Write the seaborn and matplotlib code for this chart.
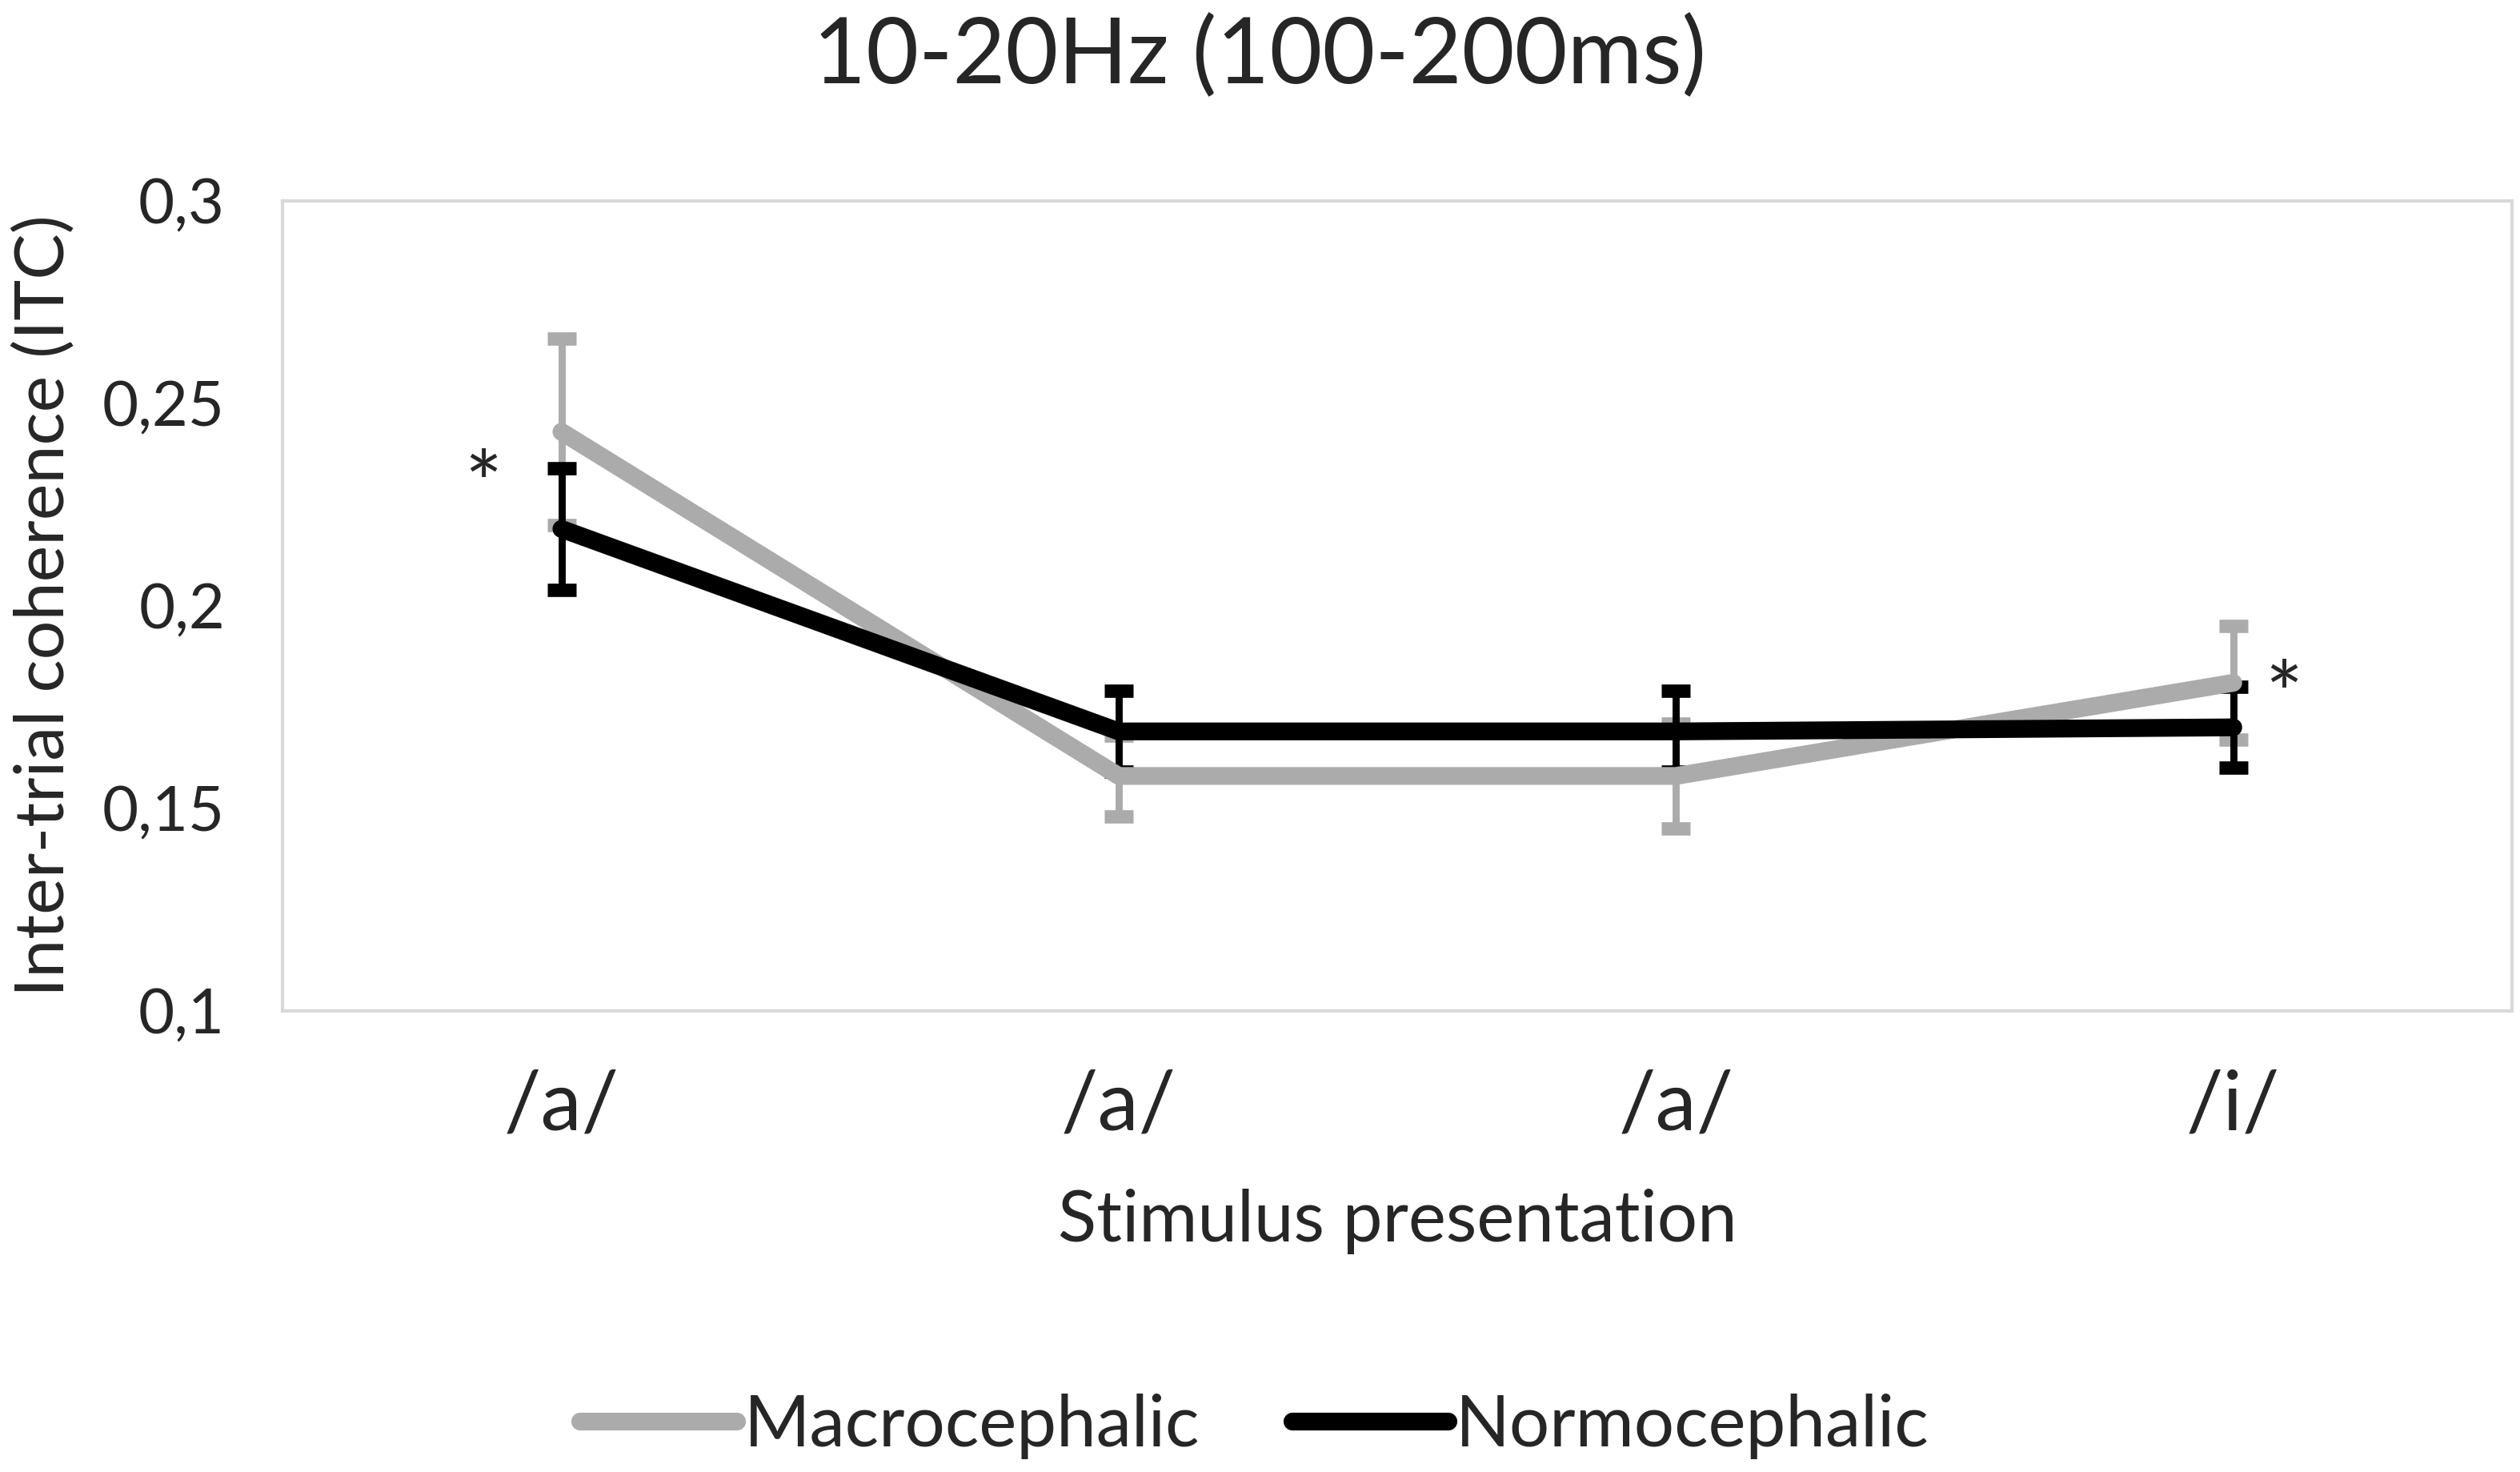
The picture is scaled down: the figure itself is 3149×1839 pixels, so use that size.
import numpy as np
import pandas as pd
import matplotlib
matplotlib.use("Agg")
import matplotlib.pyplot as plt
import seaborn as sns

# values
stimuli = ["/a/", "/a/", "/a/", "/i/"]
groups = ["Macrocephalic", "Normocephalic"]
macro_itc = [0.243, 0.158, 0.158, 0.181]
macro_err = [0.023, 0.010, 0.013, 0.014]
normo_itc = [0.219, 0.169, 0.169, 0.170]
normo_err = [0.015, 0.010, 0.010, 0.010]
colors = {"Macrocephalic": "#ABABAB", "Normocephalic": "#000000"}

sns.set_style("white")
plt.rcParams["font.family"] = ["Lato", "DejaVu Sans"]

# long table for seaborn
pos = np.arange(len(stimuli))
Data = pd.DataFrame({
    "pos": np.concatenate([pos, pos]),
    "ITC": macro_itc + normo_itc,
    "err": macro_err + normo_err,
    "Group": [groups[0]] * len(pos) + [groups[1]] * len(pos),
})

fig = plt.figure(figsize=(15.745, 9.195), dpi=200)
ax = fig.add_axes([0.1122, 0.3133, 0.8846, 0.5502])

# error bars first, lines on top
for g in groups:
    sub = Data[Data["Group"] == g]
    ax.errorbar(sub["pos"], sub["ITC"], yerr=sub["err"], fmt="none",
                ecolor=colors[g], elinewidth=3.2, capsize=6.5, capthick=6, zorder=2)

sns.lineplot(data=Data, x="pos", y="ITC", hue="Group", hue_order=groups,
             palette=colors, linewidth=8, legend=False, ax=ax, zorder=3)
ax.lines[-1].set_zorder(4)

ax.set_xlim(-0.5, 3.5)
ax.set_ylim(0.1, 0.3)
ax.set_yticks([0.1, 0.15, 0.2, 0.25, 0.3])
ax.set_yticklabels(["0,1", "0,15", "0,2", "0,25", "0,3"], fontsize=28)
ax.set_xticks(pos)
ax.set_xticklabels(stimuli, fontsize=37)
ax.tick_params(axis="x", length=0, pad=26)
ax.tick_params(axis="y", length=0, pad=26)

for sp in ax.spines.values():
    sp.set_color("#D9D9D9")
    sp.set_linewidth(1.5)

ax.set_xlabel("Stimulus presentation", fontsize=32, labelpad=20)
ax.set_ylabel("Inter-trial coherence (ITC)", fontsize=31, labelpad=12)
fig.suptitle("10-20Hz (100-200ms)", fontsize=41, y=0.99)

# significance marks
ax.text(-0.14, 0.2285, "*", fontsize=40, ha="center", va="center")
ax.text(3.09, 0.1765, "*", fontsize=40, ha="center", va="center")

handles = [plt.Line2D([], [], color=colors[g], linewidth=8, solid_capstyle="round")
           for g in groups]
fig.legend(handles, groups, loc="center", bbox_to_anchor=(0.498, 0.031), ncol=2,
           frameon=False, fontsize=32, handlelength=2.2, handletextpad=0.1,
           columnspacing=1.3)

fig.savefig("out.png", dpi=200)
